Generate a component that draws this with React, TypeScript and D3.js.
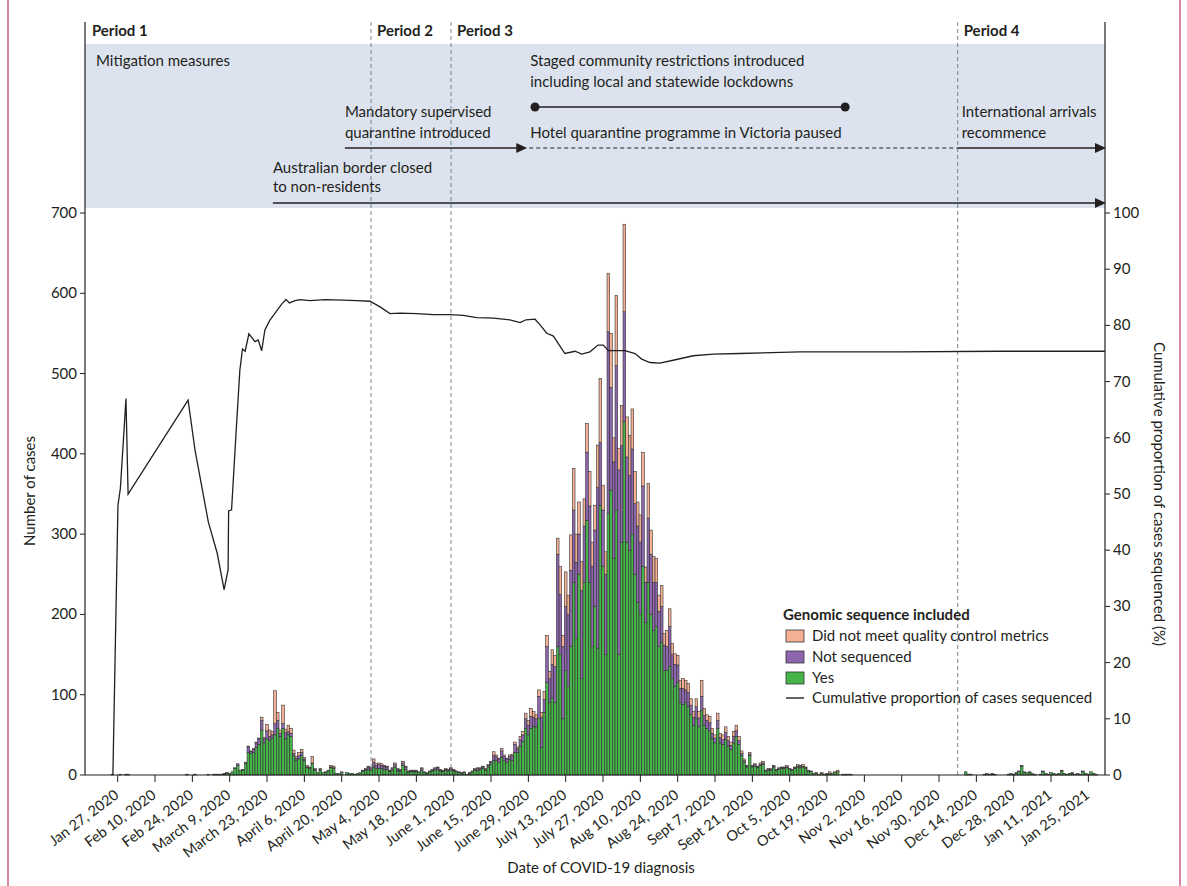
import React from 'react';
import * as d3 from 'd3';

// daily cases from Jan 25, 2020 (one row = 14 days)
const firstDay = '2020-01-25';

const yes = [
  1,0,0,0,0,1,1,0,0,0,0,0,0,0,
  0,0,0,0,0,0,0,0,0,0,0,0,0,0,
  1,0,0,0,0,0,0,0,1,0,1,0,1,1,
  1,2,2,4,8,12,6,6,14,28,27,28,34,38,
  56,40,45,43,46,50,58,48,58,45,50,48,24,18,
  20,24,18,9,8,14,6,3,6,3,3,5,9,8,
  2,2,3,0,3,2,2,1,2,3,5,6,7,6,
  10,8,8,8,7,7,4,6,10,5,4,12,7,3,
  4,4,4,3,6,3,2,4,5,6,7,5,4,6,
  5,6,5,4,3,2,3,1,2,4,6,6,7,8,
  6,10,13,18,18,16,22,18,16,19,18,28,28,36,
  42,58,50,58,60,60,70,34,78,115,90,96,90,160,
  150,70,130,110,160,240,170,250,120,240,317,240,160,210,
  158,336,260,150,326,355,270,330,150,290,440,290,280,300,
  250,215,200,260,190,240,200,180,185,160,165,130,130,135,
  120,110,115,90,88,90,85,75,62,70,60,80,62,58,
  55,45,40,58,40,38,44,36,32,40,48,38,24,16,
  10,24,10,11,9,12,13,5,6,6,9,6,7,8,
  8,9,7,6,8,10,9,10,8,5,4,2,2,1,
  2,1,1,2,2,3,4,0,1,1,0,1,0,0,
  0,0,0,0,0,0,0,0,0,0,0,0,0,0,
  0,0,0,0,0,0,0,0,0,0,0,0,0,0,
  0,0,0,0,0,0,0,0,0,0,0,0,4,1,
  1,0,0,0,0,1,2,1,1,1,0,0,0,0,
  1,2,1,2,4,11,3,3,3,2,1,0,1,4,
  2,1,3,2,1,2,5,2,1,2,2,1,2,1,
  4,2,1,4,2,1,0,0,
];

const notSequenced = [
  0,0,0,1,0,0,0,0,0,0,0,0,0,0,
  0,0,0,0,0,0,0,0,0,0,0,0,0,0,
  0,0,0,1,0,0,0,0,0,0,0,1,0,0,
  1,1,0,0,1,2,0,1,2,7,2,4,6,7,
  12,5,10,5,4,14,10,4,6,8,4,4,3,3,
  4,4,2,1,1,1,1,0,1,0,1,0,1,1,
  0,0,0,0,0,0,0,0,0,0,1,1,3,2,
  6,4,5,4,4,3,1,2,3,2,2,3,3,1,
  1,1,1,1,2,1,1,1,1,2,2,1,1,1,
  1,2,1,1,1,1,1,0,1,1,1,2,1,2,
  1,2,3,6,5,4,8,5,4,4,6,10,5,8,
  8,12,12,15,12,10,28,38,16,45,30,42,45,115,
  75,90,80,90,95,90,95,50,110,70,85,95,100,95,
  200,78,70,100,226,128,120,180,230,120,137,106,93,106,
  88,95,90,100,50,80,75,60,55,44,45,32,30,50,
  30,28,22,18,20,16,18,12,10,15,11,18,12,10,
  10,7,6,10,7,6,9,7,5,8,7,5,3,2,
  1,2,1,2,1,1,2,1,1,1,2,1,1,1,
  1,1,1,1,1,1,2,1,1,1,1,0,0,0,
  0,0,0,0,0,0,0,0,0,0,0,0,0,0,
  0,0,0,0,0,0,0,0,0,0,0,0,0,0,
  0,0,0,0,0,0,0,0,0,0,0,0,0,0,
  0,0,0,0,0,0,0,0,0,0,0,0,0,0,
  0,0,0,0,0,0,0,0,1,0,0,0,0,0,
  0,0,0,1,1,1,1,0,1,0,0,0,0,1,
  0,0,0,0,0,0,1,0,0,0,1,0,0,0,
  1,0,0,0,0,0,0,0,
];

const failedQC = [
  0,0,0,0,0,0,0,0,0,0,0,0,0,0,
  0,0,0,0,0,0,0,0,0,0,0,0,0,0,
  0,0,0,0,0,0,0,0,0,0,0,0,0,0,
  0,0,0,0,0,0,0,0,0,1,1,1,1,1,
  4,2,8,8,4,41,10,4,23,4,8,6,4,2,
  4,4,2,2,1,8,1,0,1,0,0,1,2,2,
  0,0,1,0,0,0,0,0,0,0,0,1,1,1,
  4,2,2,2,1,1,1,1,2,1,1,2,1,1,
  1,1,1,0,1,0,0,0,1,1,1,1,1,1,
  1,1,1,0,0,0,0,0,0,0,1,1,1,1,
  1,1,1,5,2,1,3,2,1,2,2,3,2,4,
  4,7,6,10,7,5,8,6,10,14,9,18,14,20,
  35,14,43,24,44,52,35,40,36,34,36,43,30,31,
  53,80,31,28,73,67,30,87,27,50,109,50,50,50,
  40,30,34,42,19,43,30,32,30,20,26,14,20,22,
  14,13,12,10,12,12,11,8,7,10,8,20,9,7,
  8,6,4,9,5,6,7,5,4,6,7,5,3,2,
  1,2,1,1,1,2,2,0,1,1,1,0,1,1,
  1,2,0,0,1,2,1,2,1,0,0,0,1,0,
  1,0,1,2,0,1,2,0,0,0,1,0,0,0,
  0,0,0,0,0,0,0,0,0,0,0,0,0,0,
  0,0,0,0,0,0,0,0,0,0,0,0,0,0,
  0,0,0,0,0,0,0,0,0,0,0,0,0,0,
  0,0,0,0,0,0,0,0,0,0,0,0,0,0,
  0,0,0,0,0,0,0,0,0,0,0,0,0,0,
  0,0,0,0,0,0,0,0,0,0,0,0,0,0,
  0,0,0,0,0,0,0,0,
];

// cumulative proportion sequenced, days after Jan 27, 2020 -> %
const lineDay = [
  -1.8, 0.1, 1, 2.2, 3.1, 3.9, 26.4, 29, 34, 37.3, 39.9, 41.4, 41.6, 42.7, 44.4,
  45.8, 46.8, 47.8, 49.2, 51.5, 52.7, 54, 55.2, 56.9, 59, 61.5, 63.1, 64.4, 66.5,
  68.4, 72.1, 77.8, 84.6, 89.6, 94.6, 98.4, 102.1, 105.9, 112.1, 118.4, 124.6,
  129.6, 134.6, 140.9, 147.1, 150.9, 153.1, 156.5, 158.4, 160.9, 163.4, 165.3,
  167.7, 171.5, 174, 177.1, 180.1, 182.1, 184, 187.1, 190.2, 194, 196.5, 199.6,
  203.3, 208.3, 215.8, 223.3, 233.3, 255.8, 293.3, 330.8, 370.2,
];
const linePct = [
  0, 48, 51, 60, 67, 50, 66.7, 57.8, 45, 39.5, 33, 36.5, 47, 47.2, 61,
  72, 75.8, 75.4, 78.5, 77.1, 77.4, 75.5, 79.2, 80.8, 82.2, 83.8, 84.6, 84, 84.4,
  84.6, 84.4, 84.6, 84.5, 84.4, 84.3, 83.3, 82.1, 82.2, 82.1, 81.9, 81.9,
  81.8, 81.4, 81.3, 81, 80.5, 81, 81.1, 80.1, 78.6, 78.1, 76.7,
  75, 75.4, 74.9, 75.3, 76.5, 76.5, 75.5, 75.5, 75.5, 75, 74, 73.4,
  73.3, 73.8, 74.6, 74.9, 75, 75.3, 75.3, 75.4, 75.4,
];

const tickLabels = [
  'Jan 27, 2020', 'Feb 10, 2020', 'Feb 24, 2020', 'March 9, 2020', 'March 23, 2020',
  'April 6, 2020', 'April 20, 2020', 'May 4, 2020', 'May 18, 2020', 'June 1, 2020',
  'June 15, 2020', 'June 29, 2020', 'July 13, 2020', 'July 27, 2020', 'Aug 10, 2020',
  'Aug 24, 2020', 'Sept 7, 2020', 'Sept 21, 2020', 'Oct 5, 2020', 'Oct 19, 2020',
  'Nov 2, 2020', 'Nov 16, 2020', 'Nov 30, 2020', 'Dec 14, 2020', 'Dec 28, 2020',
  'Jan 11, 2021', 'Jan 25, 2021',
];

// period boundaries, days after Jan 27, 2020
const periodNames = ['Period 1', 'Period 2', 'Period 3', 'Period 4'];
const periodStart = [-12.3, 95, 125, 315];

const seriesNames = ['Did not meet quality control metrics', 'Not sequenced', 'Yes'];
const seriesColors = ['#f5b094', '#8d66ae', '#45b549'];

const DAY = 86400000;
const REF = Date.UTC(2020, 0, 27);
const dayToDate = (d: number) => new Date(REF + d * DAY);

const FONT = 'Lato, "Open Sans", sans-serif';
const INK = '#231f20';

const Arrow = ({ x, y }: { x: number; y: number }) => (
  <path d={`M${x},${y} l-11,-5 l0,10 z`} fill={INK} />
);

export default function App() {
  const left = 85;
  const right = 1105;
  const bottom = 775;
  const top = 213;

  const x = d3
    .scaleUtc()
    .domain([dayToDate(-12.26), dayToDate(370.24)])
    .range([left, right]);
  const y = d3.scaleLinear().domain([0, 700]).range([bottom, top]);
  const yr = d3.scaleLinear().domain([0, 100]).range([bottom, top]);

  const start = Date.parse(firstDay);
  const days = yes.map((v, i) => {
    const t = start + i * DAY;
    return {
      x0: x(new Date(t - DAY / 2)),
      x1: x(new Date(t + DAY / 2)),
      vals: [v, notSequenced[i], failedQC[i]],
    };
  });

  const line = d3
    .line<number>()
    .x((d) => x(dayToDate(d)))
    .y((_, i) => yr(linePct[i]));

  const tickDates = tickLabels.map((_, i) => dayToDate(i * 14));
  const xp = periodStart.map((d) => x(dayToDate(d)));

  // annotation anchors, days after Jan 27, 2020
  const xBorder = x(dayToDate(58.2));
  const xMandatory = x(dayToDate(85.2));
  const xHotel = x(dayToDate(153.2));
  const xLockStart = x(dayToDate(156.5));
  const xLockEnd = x(dayToDate(272.8));
  const xIntl = x(dayToDate(315));

  const txt = { fontFamily: FONT, fontSize: 15, fill: INK };

  return (
    <svg
      width={1187}
      height={886}
      style={{ position: 'absolute', left: 0, top: 0, background: '#fff' }}
    >
      <line x1={8} x2={8} y1={0} y2={886} stroke="#c2356a" strokeWidth={1.2} />
      <line x1={1180} x2={1180} y1={0} y2={886} stroke="#c2356a" strokeWidth={1.2} />

      {/* policy banner */}
      <rect x={left} y={44} width={right - left} height={164} fill="#dde3ee" />

      {xp.slice(1).map((px, i) => (
        <line
          key={i}
          x1={px}
          x2={px}
          y1={22}
          y2={bottom}
          stroke="#6f8794"
          strokeWidth={1}
          strokeDasharray="4,3"
        />
      ))}
      {periodNames.map((p, i) => (
        <text key={p} x={xp[i] + (i === 0 ? 7 : 6)} y={36} {...txt} fontWeight="bold">
          {p}
        </text>
      ))}

      <text x={96} y={66} {...txt}>Mitigation measures</text>
      <text x={xHotel + 4} y={66} {...txt}>Staged community restrictions introduced</text>
      <text x={xHotel + 4} y={87} {...txt}>including local and statewide lockdowns</text>
      <line x1={xLockStart} x2={xLockEnd} y1={107} y2={107} stroke={INK} strokeWidth={1.4} />
      <circle cx={xLockStart} cy={107} r={4.5} fill={INK} />
      <circle cx={xLockEnd} cy={107} r={4.5} fill={INK} />
      <text x={xMandatory} y={117} {...txt}>Mandatory supervised</text>
      <text x={xMandatory} y={138} {...txt}>quarantine introduced</text>
      <text x={xHotel + 4} y={138} {...txt}>Hotel quarantine programme in Victoria paused</text>
      <text x={xIntl + 4} y={117} {...txt}>International arrivals</text>
      <text x={xIntl + 4} y={138} {...txt}>recommence</text>
      <line x1={xMandatory} x2={xHotel - 4} y1={148} y2={148} stroke={INK} strokeWidth={1.4} />
      <Arrow x={xHotel + 1} y={148} />
      <line
        x1={xHotel + 3}
        x2={xIntl}
        y1={148}
        y2={148}
        stroke={INK}
        strokeWidth={1.2}
        strokeDasharray="4,3"
      />
      <line x1={xIntl} x2={right - 6} y1={148} y2={148} stroke={INK} strokeWidth={1.4} />
      <Arrow x={right + 1} y={148} />
      <text x={xBorder} y={173} {...txt}>Australian border closed</text>
      <text x={xBorder} y={192} {...txt}>to non-residents</text>
      <line x1={xBorder} x2={right - 6} y1={203} y2={203} stroke={INK} strokeWidth={1.4} />
      <Arrow x={right + 1} y={203} />

      {/* stacked daily bars: yes, not sequenced, failed QC */}
      {days.map((d, i) => {
        let acc = 0;
        const order = [2, 1, 0];
        return (
          <g key={i}>
            {[0, 1, 2].map((k) => {
              const v = d.vals[k];
              if (!v) return null;
              const y0 = y(acc);
              acc += v;
              const y1 = y(acc);
              return (
                <rect
                  key={k}
                  x={d.x0}
                  y={y1}
                  width={d.x1 - d.x0}
                  height={y0 - y1}
                  fill={seriesColors[order[k]]}
                  stroke="#333"
                  strokeWidth={0.6}
                />
              );
            })}
          </g>
        );
      })}

      <path d={line(lineDay) || ''} fill="none" stroke={INK} strokeWidth={1.3} />

      {/* axes */}
      <line x1={left} x2={left} y1={22} y2={bottom} stroke={INK} strokeWidth={1.2} />
      <line x1={right} x2={right} y1={22} y2={bottom} stroke={INK} strokeWidth={1.2} />
      <line x1={left} x2={right} y1={bottom} y2={bottom} stroke={INK} strokeWidth={1.2} />

      {y.ticks(7).map((t) => (
        <g key={t}>
          <line x1={left - 5} x2={left} y1={y(t)} y2={y(t)} stroke={INK} />
          <text x={left - 8} y={y(t) + 5} textAnchor="end" {...txt}>{t}</text>
        </g>
      ))}
      {yr.ticks(10).map((t) => (
        <g key={t}>
          <line x1={right} x2={right + 5} y1={yr(t)} y2={yr(t)} stroke={INK} />
          <text x={right + 8} y={yr(t) + 5} {...txt}>{t}</text>
        </g>
      ))}
      {tickDates.map((t, i) => (
        <g key={i}>
          <line x1={x(t)} x2={x(t)} y1={bottom} y2={bottom + 7} stroke={INK} />
          <text
            transform={`translate(${x(t) + 2},${bottom + 22}) rotate(-37)`}
            textAnchor="end"
            {...txt}
            fontSize={14.5}
          >
            {tickLabels[i]}
          </text>
        </g>
      ))}

      <text x={601} y={873} textAnchor="middle" {...txt}>Date of COVID-19 diagnosis</text>
      <text transform="translate(35,491) rotate(-90)" textAnchor="middle" {...txt}>
        Number of cases
      </text>
      <text transform="translate(1154,494) rotate(90)" textAnchor="middle" {...txt}>
        Cumulative proportion of cases sequenced (%)
      </text>

      {/* legend */}
      <g>
        <text x={783} y={620} {...txt} fontWeight="bold">Genomic sequence included</text>
        {seriesNames.map((s, i) => (
          <g key={s}>
            <rect
              x={786}
              y={630 + i * 21}
              width={18}
              height={12}
              fill={seriesColors[i]}
              stroke="#333"
              strokeWidth={0.8}
            />
            <text x={812} y={641 + i * 21} {...txt}>{s}</text>
          </g>
        ))}
        <line x1={786} x2={804} y1={698} y2={698} stroke={INK} strokeWidth={1.4} />
        <text x={812} y={703} {...txt}>Cumulative proportion of cases sequenced</text>
      </g>
    </svg>
  );
}
